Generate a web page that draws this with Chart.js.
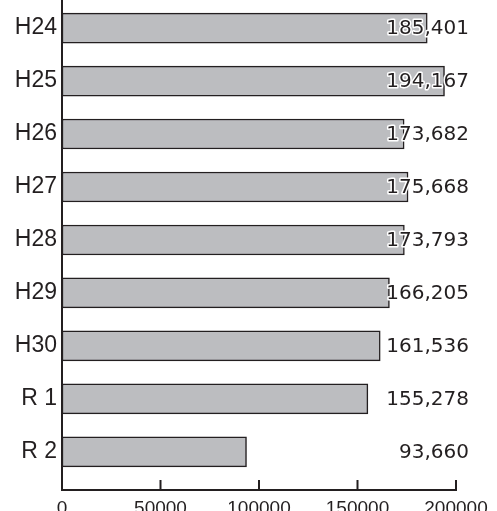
<!DOCTYPE html>
<html>
<head>
<meta charset="utf-8">
<script src="https://cdn.jsdelivr.net/npm/chart.js@4.4.1/dist/chart.umd.min.js"></script>
<style>
html,body{margin:0;padding:0;background:#fff;}
#wrap{width:497px;height:511px;}
</style>
</head>
<body>
<div id="wrap"><canvas id="c"></canvas></div>
<script>
const categories = ['H24','H25','H26','H27','H28','H29','H30','R 1','R 2'];
const values = [185401,194167,173682,175668,173793,166205,161536,155278,93660];
const valueLabels = ['185,401','194,167','173,682','175,668','173,793','166,205','161,536','155,278','93,660'];
const xTicks = [0,50000,100000,150000,200000];

const ink = '#231f20';

const insideTicks = {
  id: 'insideTicks',
  afterDatasetsDraw(chart) {
    const ctx = chart.ctx, xs = chart.scales.x, bottom = chart.chartArea.bottom;
    ctx.save();
    ctx.strokeStyle = ink; ctx.lineWidth = 2;
    xs.ticks.forEach(t => {
      const px = xs.getPixelForValue(t.value);
      if (t.value === 0) return;
      ctx.beginPath(); ctx.moveTo(px, bottom); ctx.lineTo(px, bottom - 10); ctx.stroke();
    });
    ctx.restore();
  }
};

const valueText = {
  id: 'valueText',
  afterDatasetsDraw(chart) {
    const ctx = chart.ctx, xs = chart.scales.x, ys = chart.scales.y;
    const right = xs.getPixelForValue(200000) + 13;
    ctx.save();
    ctx.font = '20px "DejaVu Sans", sans-serif';
    ctx.textAlign = 'right';
    ctx.textBaseline = 'middle';
    ctx.lineJoin = 'round';
    valueLabels.forEach((s, i) => {
      const py = ys.getPixelForValue(i) + 1;
      ctx.strokeStyle = '#fff'; ctx.lineWidth = 3;
      ctx.strokeText(s, right, py);
      ctx.fillStyle = ink;
      ctx.fillText(s, right, py);
    });
    ctx.restore();
  }
};

new Chart(document.getElementById('c'), {
  type: 'bar',
  data: {
    datasets: [{
      data: values.map((v, i) => ({x: v, y: i})),
      backgroundColor: '#bcbdc0',
      borderColor: ink,
      borderWidth: 1.5,
      borderSkipped: false,
      barThickness: 30
    }]
  },
  options: {
    indexAxis: 'y',
    responsive: true,
    maintainAspectRatio: false,
    animation: false,
    layout: {padding: {top: 0, right: 41, left: 0, bottom: 0}},
    plugins: {legend: {display: false}, tooltip: {enabled: false}},
    scales: {
      x: {
        type: 'linear', min: 0, max: 200000, offset: false,
        afterBuildTicks(s) { s.ticks = xTicks.map(v => ({value: v})); },
        afterFit(s) { s.height = 21; s.paddingLeft = 0; s.paddingRight = 0; },
        grid: {display: false, drawTicks: false, offset: false},
        border: {display: true, color: ink, width: 2},
        ticks: {color: ink, padding: 7, maxRotation: 0, autoSkip: false,
          font: {family: '"Liberation Sans", sans-serif', size: 19},
          callback: v => String(v)}
      },
      y: {
        type: 'linear', reverse: true, min: -0.53, max: 8.72, offset: false,
        afterBuildTicks(s) { s.ticks = categories.map((_, i) => ({value: i})); },
        afterFit(s) { s.width = 62; s.paddingTop = 0; s.paddingBottom = 0; },
        grid: {display: false, drawTicks: false, offset: false},
        border: {display: true, color: ink, width: 2},
        ticks: {color: ink, padding: 5, autoSkip: false,
          font: {family: '"Liberation Sans", sans-serif', size: 23},
          callback: v => categories[v] ?? ''}
      }
    }
  },
  plugins: [insideTicks, valueText]
});
</script>
</body>
</html>
